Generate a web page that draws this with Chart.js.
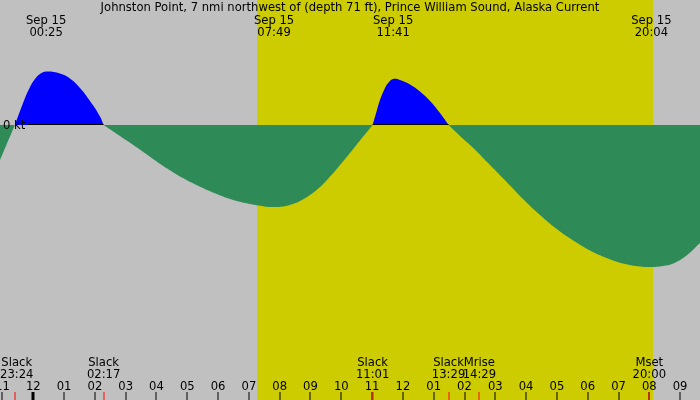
<!DOCTYPE html>
<html><head><meta charset="utf-8">
<script src="https://cdn.jsdelivr.net/npm/chart.js@4/dist/chart.umd.min.js"></script>
<style>html,body{margin:0;padding:0;background:#c0c0c0}#wrap{width:700px;height:400px}</style>
</head><body><div id="wrap"><canvas id="c" width="700" height="400"></canvas></div>
<script>
const titleText = "Johnston Point, 7 nmi northwest of (depth 71 ft), Prince William Sound, Alaska Current";
// hours since midnight Sep 15 (negative = Sep 14); null separates flood / ebb lobes at each slack
const timeHours = [
  -1.081, -0.6,
  -0.6,
  -0.6, -0.431, -0.269, -0.107, 0.055, 0.218, 0.417, 0.867, 1.192, 1.516, 1.841, 2.166, 2.283,
  2.283,
  2.283, 2.815, 3.247, 3.789, 4.331, 4.870, 5.412, 5.955, 6.494, 7.036, 7.578, 7.817, 8.117, 8.432, 8.659, 8.984, 9.309, 9.536, 9.796, 10.055, 10.282, 10.607, 11.017,
  11.017,
  11.017, 11.149, 11.256, 11.419, 11.549, 11.683, 11.906, 12.231, 12.555, 12.880, 13.205, 13.483,
  13.483,
  13.483, 13.855, 14.286, 14.828, 15.370, 15.9, 16.451, 16.994, 17.532, 18.075, 18.617, 19.146, 19.698, 20.067, 20.445, 20.779, 21.19, 21.646];
const currentKt = [
  -0.35, 0,
  null,
  0, 0.14, 0.27, 0.38, 0.46, 0.51, 0.535, 0.515, 0.465, 0.37, 0.24, 0.085, 0,
  null,
  0, -0.11, -0.20, -0.317, -0.433, -0.533, -0.617, -0.69, -0.75, -0.79, -0.817, -0.82, -0.815, -0.79, -0.76, -0.70, -0.62, -0.55, -0.46, -0.365, -0.28, -0.155, 0,
  null,
  0, 0.14, 0.25, 0.37, 0.43, 0.46, 0.45, 0.405, 0.335, 0.24, 0.12, 0,
  null,
  0, -0.11, -0.23, -0.40, -0.57, -0.74, -0.90, -1.04, -1.155, -1.255, -1.33, -1.385, -1.415, -1.42, -1.41, -1.385, -1.31, -1.18];
const daylight = [7.27, 20.12];
const peakHours = [0.417, 7.817, 11.683, 20.067];
const peakDates = ["Sep 15", "Sep 15", "Sep 15", "Sep 15"];
const peakTimes = ["00:25", "07:49", "11:41", "20:04"];
const eventHours = [-0.6, 2.283, 11.017, 13.483, 14.483, 20.0];
const eventNames = ["Slack", "Slack", "Slack", "Slack", "Mrise", "Mset"];
const eventTimes = ["23:24", "02:17", "11:01", "13:29", "14:29", "20:00"];
const tickHours = [-1, 0, 1, 2, 3, 4, 5, 6, 7, 8, 9, 10, 11, 12, 13, 14, 15, 16, 17, 18, 19, 20, 21];
const tickLabels = ["11", "12", "01", "02", "03", "04", "05", "06", "07", "08", "09", "10", "11", "12", "01", "02", "03", "04", "05", "06", "07", "08", "09"];
const zeroLabel = "0 kt";

const FONT = '11.6px "DejaVu Sans"';

const tidePlugin = {
  id: 'tide',
  beforeDraw(chart) {
    const ctx = chart.ctx, x = chart.scales.x;
    ctx.save();
    ctx.fillStyle = '#c0c0c0';
    ctx.fillRect(0, 0, chart.width, chart.height);
    ctx.fillStyle = '#cccc00';
    const a = Math.round(x.getPixelForValue(daylight[0])), b = Math.round(x.getPixelForValue(daylight[1]));
    ctx.fillRect(a, 0, b - a, chart.height);
    ctx.restore();
  },
  afterDatasetsDraw(chart) {
    const ctx = chart.ctx, x = chart.scales.x, y = chart.scales.y;
    const y0 = y.getPixelForValue(0);
    ctx.save();
    ctx.font = FONT;
    ctx.fillStyle = '#000';
    ctx.textAlign = 'left';
    ctx.textBaseline = 'alphabetic';
    ctx.fillText(zeroLabel, 3, y0 + 4);
    const labelEnd = 3 + ctx.measureText(zeroLabel).width + 2;
    ctx.strokeStyle = '#000';
    ctx.lineWidth = 1;
    for (let i = 0; i < currentKt.length - 1; i++) {
      if (currentKt[i] === 0 && currentKt[i + 1] !== null && currentKt[i + 1] > 0) {
        let j = i + 1;
        while (j < currentKt.length && currentKt[j] !== 0) j++;
        if (j >= currentKt.length) j = currentKt.length - 1;
        const xa = Math.max(x.getPixelForValue(timeHours[i]), labelEnd);
        const xb = x.getPixelForValue(timeHours[j]);
        ctx.beginPath();
        ctx.moveTo(xa, Math.round(y0) - 0.5);
        ctx.lineTo(xb, Math.round(y0) - 0.5);
        ctx.stroke();
      }
    }
    ctx.textAlign = 'center';
    ctx.fillText(titleText, chart.width / 2, 11);
    peakHours.forEach((h, i) => {
      const px = x.getPixelForValue(h);
      ctx.fillText(peakDates[i], px, 24);
      ctx.fillText(peakTimes[i], px, 36);
    });
    eventHours.forEach((h, i) => {
      const px = x.getPixelForValue(h);
      const w = Math.max(ctx.measureText(eventNames[i]).width, ctx.measureText(eventTimes[i]).width);
      const cx = Math.max(px, w / 2);
      ctx.fillText(eventNames[i], cx, 366);
      ctx.fillText(eventTimes[i], cx, 378);
    });
    tickHours.forEach((h, i) => {
      const px = x.getPixelForValue(h);
      ctx.fillStyle = '#000';
      ctx.fillText(tickLabels[i], px, 390);
      if (h === 0) ctx.fillRect(Math.round(px) - 1.5, 392, 3, 8);
      else ctx.fillRect(Math.round(px) - 0.5, 392, 1, 8);
    });
    ctx.fillStyle = '#ff0000';
    eventHours.forEach(h => {
      const px = x.getPixelForValue(h);
      ctx.fillRect(Math.round(px) - 0.5, 392, 1, 8);
    });
    ctx.restore();
  }
};

new Chart(document.getElementById('c'), {
  type: 'line',
  data: {
    datasets: [{
      data: timeHours.map((t, i) => ({ x: t, y: currentKt[i] })),
      borderWidth: 0,
      borderColor: 'rgba(0,0,0,0)',
      pointRadius: 0,
      spanGaps: false,
      tension: 0.4,
      fill: { target: 'origin', above: '#0000ff', below: '#2e8b57' }
    }]
  },
  options: {
    responsive: false,
    animation: false,
    devicePixelRatio: 1,
    layout: { padding: 0 },
    plugins: { legend: { display: false }, tooltip: { enabled: false }, title: { display: false } },
    scales: {
      x: { type: 'linear', min: -1.081, max: 21.646, display: false },
      y: { type: 'linear', min: -2.75, max: 1.25, display: false }
    }
  },
  plugins: [tidePlugin]
});
</script>
</body></html>
